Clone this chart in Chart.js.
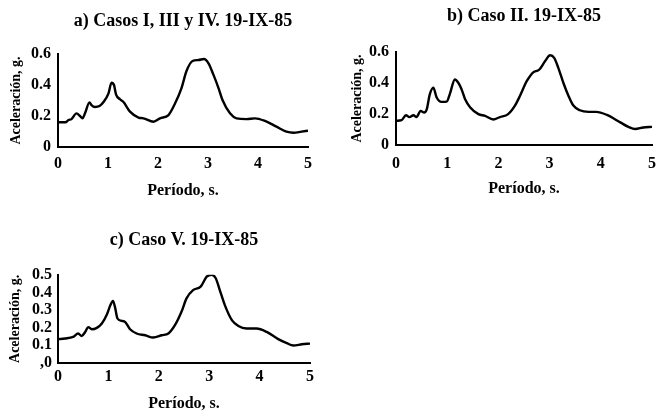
<!DOCTYPE html>
<html><head><meta charset="utf-8">
<script src="https://cdn.jsdelivr.net/npm/chart.js@4/dist/chart.umd.min.js"></script>
<style>
html,body{margin:0;padding:0;background:#fff;}
#wrap{position:relative;width:656px;height:412px;overflow:hidden;background:#fff;}
.box{position:absolute;}
</style></head>
<body><div id="wrap">
<div class="box" style="left:0;top:0;width:330px;height:210px"><canvas id="ca"></canvas></div>
<div class="box" style="left:330px;top:0;width:336px;height:210px"><canvas id="cb"></canvas></div>
<div class="box" style="left:0;top:215px;width:330px;height:199px"><canvas id="cc"></canvas></div>
</div>
<script>
// ---- data ----
const titleA = 'a) Casos I, III y IV. 19-IX-85';
const titleB = 'b) Caso II. 19-IX-85';
const titleC = 'c) Caso V. 19-IX-85';
const xTitle = 'Período, s.';
const yTitle = 'Aceleración, g.';
const xTickLabels = ['0','1','2','3','4','5'];
const yTickLabelsAB = ['0','0.2','0.4','0.6'];
const yTickLabelsC = [',0','0.1','0.2','0.3','0.4','0.5'];

const periodsA = [0,0.15,0.21,0.27,0.37,0.44,0.49,0.54,0.63,0.67,0.74,0.83,0.91,1.01,1.07,1.12,1.16,1.24,1.31,1.44,1.61,1.71,1.91,2.04,2.21,2.34,2.47,2.57,2.69,2.81,2.92,3.01,3.11,3.21,3.29,3.44,3.57,3.77,3.94,4.14,4.37,4.57,4.71,4.87,5.0];
const accelA   = [0.16,0.16,0.174,0.18,0.217,0.20,0.185,0.217,0.288,0.27,0.258,0.264,0.29,0.346,0.415,0.40,0.34,0.308,0.29,0.228,0.19,0.185,0.163,0.185,0.206,0.28,0.38,0.49,0.555,0.561,0.568,0.54,0.465,0.38,0.303,0.217,0.185,0.18,0.185,0.168,0.131,0.099,0.092,0.099,0.105];

const periodsB = [0,0.11,0.195,0.26,0.34,0.40,0.48,0.55,0.60,0.66,0.73,0.79,0.89,0.99,1.05,1.15,1.22,1.28,1.35,1.45,1.61,1.74,1.90,2.03,2.19,2.32,2.42,2.52,2.55,2.67,2.80,2.91,3.01,3.09,3.17,3.27,3.37,3.46,3.59,3.76,3.91,4.12,4.38,4.54,4.67,4.83,5.0];
const accelB   = [0.156,0.16,0.192,0.18,0.192,0.18,0.22,0.21,0.23,0.327,0.37,0.31,0.278,0.28,0.327,0.423,0.40,0.36,0.295,0.242,0.199,0.188,0.165,0.18,0.199,0.252,0.316,0.39,0.41,0.466,0.487,0.54,0.579,0.562,0.498,0.40,0.316,0.256,0.224,0.214,0.214,0.194,0.146,0.117,0.103,0.113,0.117];

const periodsC = [0,0.14,0.30,0.40,0.47,0.54,0.60,0.67,0.77,0.87,0.97,1.04,1.09,1.13,1.18,1.26,1.33,1.43,1.56,1.73,1.89,2.06,2.19,2.32,2.45,2.55,2.68,2.83,2.95,3.05,3.13,3.21,3.31,3.45,3.58,3.74,3.94,4.14,4.37,4.54,4.67,4.84,5.0];
const accelC   = [0.135,0.139,0.148,0.167,0.153,0.176,0.203,0.191,0.199,0.224,0.275,0.328,0.352,0.318,0.252,0.239,0.233,0.191,0.167,0.157,0.144,0.157,0.167,0.214,0.29,0.366,0.413,0.432,0.489,0.5,0.48,0.413,0.328,0.243,0.209,0.195,0.195,0.176,0.135,0.112,0.099,0.106,0.11];

// ---- chart builder ----
const FAM = '"Liberation Serif", "Times New Roman", serif';
function makeChart(id, title, periods, accel, yMax, yStep, yLabels, L) {
  const pts = periods.map((p, i) => ({x: p, y: accel[i]}));
  return new Chart(document.getElementById(id), {
    type: 'line',
    data: {datasets: [{data: pts, borderColor: '#000', borderWidth: 2.4, pointRadius: 0,
      fill: false, cubicInterpolationMode: 'monotone'}]},
    options: {
      responsive: true, maintainAspectRatio: false, animation: false,
      layout: {padding: {left: L.padL, right: L.padR, top: 0, bottom: L.padB}},
      plugins: {
        legend: {display: false}, tooltip: {enabled: false},
        title: {display: true, text: title, color: '#000', fullSize: false,
          font: {family: FAM, size: 18, weight: 'bold'},
          padding: {top: L.tTop, bottom: L.tBot}}
      },
      scales: {
        x: {type: 'linear', min: 0, max: 5,
          afterFit: s => { s.height = L.xH; },
          grid: {display: false, drawTicks: false},
          border: {display: true, color: '#000', width: 2},
          ticks: {stepSize: 1, color: '#000', padding: L.xP, maxRotation: 0, autoSkip: false,
            font: {family: FAM, size: 16, weight: 'bold'},
            callback: (v, i) => xTickLabels[i]},
          title: {display: true, text: xTitle, color: '#000',
            font: {family: FAM, size: 16, weight: 'bold'},
            padding: {top: 0, bottom: L.xtB}}
        },
        y: {type: 'linear', min: 0, max: yMax,
          afterFit: s => { s.width = L.yW; },
          grid: {display: false, drawTicks: false},
          border: {display: true, color: '#000', width: 2},
          ticks: {stepSize: yStep, color: '#000', padding: L.yP, autoSkip: false,
            font: {family: FAM, size: 16, weight: 'bold'},
            callback: (v, i) => yLabels[i]},
          title: {display: true, text: yTitle, color: '#000',
            font: {family: FAM, size: 14, weight: 'bold'},
            padding: {top: L.ytT, bottom: 0}}
        }
      }
    }
  });
}

makeChart('ca', titleA, periodsA, accelA, 0.6, 0.2, yTickLabelsAB,
  {padL: 4, padR: 22, padB: 4, tTop: 10.2, tBot: 22.2, xH: 59, xP: 7.4, xtB: 5.4, yW: 54, yP: 7, ytT: 3.6});
makeChart('cb', titleB, periodsB, accelB, 0.6, 0.2, yTickLabelsAB,
  {padL: 4, padR: 14, padB: 4, tTop: 5.2, tBot: 25.2, xH: 61, xP: 8.9, xtB: 7.4, yW: 62, yP: 7, ytT: 14.6});
makeChart('cc', titleC, periodsC, accelC, 0.5, 0.1, yTickLabelsC,
  {padL: 4, padR: 20, padB: 0, tTop: 14.2, tBot: 23.9, xH: 51, xP: 4.4, xtB: 0.4, yW: 54, yP: 6, ytT: 2.6});
</script>
</body></html>
